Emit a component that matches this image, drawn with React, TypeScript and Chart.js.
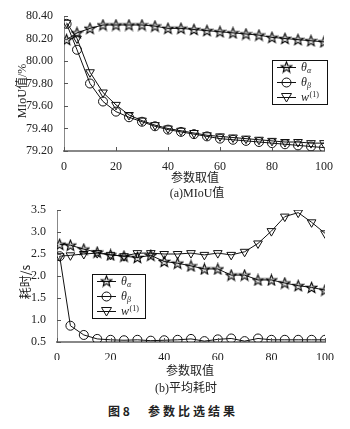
import React, { useEffect, useRef } from "react";
import { Chart, registerables } from "chart.js";
Chart.register(...registerables);

const xValues = [1, 5, 10, 15, 20, 25, 30, 35, 40, 45, 50, 55, 60, 65, 70, 75, 80, 85, 90, 95, 100];

const miouAlpha = [80.19, 80.25, 80.29, 80.32, 80.32, 80.32, 80.32, 80.31, 80.29, 80.29, 80.28, 80.27, 80.26, 80.25, 80.24, 80.23, 80.21, 80.2, 80.19, 80.18, 80.17];
const miouBeta = [80.33, 80.1, 79.8, 79.64, 79.55, 79.5, 79.46, 79.42, 79.39, 79.37, 79.35, 79.33, 79.31, 79.3, 79.29, 79.28, 79.27, 79.26, 79.25, 79.24, 79.23];
const miouW = [80.34, 80.2, 79.9, 79.72, 79.61, 79.52, 79.47, 79.43, 79.4, 79.38, 79.36, 79.34, 79.33, 79.32, 79.31, 79.3, 79.29, 79.28, 79.28, 79.27, 79.27];

const timeAlpha = [2.72, 2.7, 2.61, 2.54, 2.48, 2.45, 2.42, 2.47, 2.33, 2.29, 2.23, 2.16, 2.16, 2.02, 2.02, 1.91, 1.91, 1.84, 1.78, 1.74, 1.68];
const timeBeta = [2.45, 0.87, 0.66, 0.57, 0.55, 0.54, 0.55, 0.53, 0.54, 0.55, 0.57, 0.52, 0.56, 0.58, 0.52, 0.58, 0.55, 0.55, 0.55, 0.55, 0.55];
const timeW = [2.45, 2.47, 2.5, 2.52, 2.48, 2.45, 2.52, 2.52, 2.5, 2.5, 2.52, 2.48, 2.52, 2.48, 2.55, 2.74, 3.02, 3.35, 3.44, 3.22, 2.97];

const legendLabels = [
  { base: "θ", sub: "α", sup: "" },
  { base: "θ", sub: "β", sup: "" },
  { base: "w", sub: "", sup: "(1)" },
];

const SERIF = "'Liberation Serif', 'DejaVu Serif', serif";
const CJK = "'Noto Sans CJK SC', sans-serif";

function makeStar(): HTMLCanvasElement {
  const c = document.createElement("canvas");
  c.width = 13;
  c.height = 13;
  const g = c.getContext("2d")!;
  g.strokeStyle = "#000";
  g.lineWidth = 1.1;
  g.fillStyle = "rgba(0,0,0,0.15)";
  g.beginPath();
  const cx = 6.5, cy = 7, R = 5.6, r = 2.4;
  for (let i = 0; i < 10; i++) {
    const ang = -Math.PI / 2 + (i * Math.PI) / 5;
    const rad = i % 2 === 0 ? R : r;
    const px = cx + rad * Math.cos(ang);
    const py = cy + rad * Math.sin(ang);
    if (i === 0) g.moveTo(px, py);
    else g.lineTo(px, py);
  }
  g.closePath();
  g.fill();
  g.stroke();
  return c;
}

function drawMarker(ctx: CanvasRenderingContext2D, kind: number, x: number, y: number, star: HTMLCanvasElement) {
  ctx.save();
  ctx.strokeStyle = "#111";
  ctx.lineWidth = 1;
  if (kind === 0) {
    ctx.drawImage(star, x - 6.5, y - 7);
  } else if (kind === 1) {
    ctx.beginPath();
    ctx.arc(x, y, 4.5, 0, Math.PI * 2);
    ctx.stroke();
  } else {
    ctx.beginPath();
    ctx.moveTo(x - 5, y - 4);
    ctx.lineTo(x + 5, y - 4);
    ctx.lineTo(x, y + 4.5);
    ctx.closePath();
    ctx.stroke();
  }
  ctx.restore();
}

const legendPlugin = {
  id: "customLegend",
  afterDraw(chart: any, _args: any, opts: any) {
    const ctx: CanvasRenderingContext2D = chart.ctx;
    const { x, y, w, h, star } = opts;
    ctx.save();
    ctx.fillStyle = "#fff";
    ctx.fillRect(x, y, w, h);
    ctx.strokeStyle = "#111";
    ctx.lineWidth = 1;
    ctx.strokeRect(x + 0.5, y + 0.5, w, h);
    const rowH = h / 3;
    legendLabels.forEach((lab, i) => {
      const cy = Math.round(y + rowH * (i + 0.5)) + 0.5;
      ctx.beginPath();
      ctx.moveTo(x + 5, cy);
      ctx.lineTo(x + 24, cy);
      ctx.strokeStyle = "#111";
      ctx.stroke();
      drawMarker(ctx, i, x + 14.5, cy, star);
      let tx = x + 29;
      ctx.fillStyle = "#222";
      ctx.textBaseline = "middle";
      ctx.textAlign = "left";
      ctx.font = `italic 12px ${SERIF}`;
      ctx.fillText(lab.base, tx, cy);
      tx += ctx.measureText(lab.base).width;
      if (lab.sub) {
        ctx.font = `italic 8px ${SERIF}`;
        ctx.fillText(lab.sub, tx, cy + 3);
      }
      if (lab.sup) {
        ctx.font = `8px ${SERIF}`;
        ctx.fillText(lab.sup, tx + 0.5, cy - 3);
      }
    });
    ctx.restore();
  },
};

const inwardTicks = {
  id: "inwardTicks",
  afterDraw(chart: any) {
    const ctx: CanvasRenderingContext2D = chart.ctx;
    const { left, bottom } = chart.chartArea;
    const xs = chart.scales.x;
    const ys = chart.scales.y;
    ctx.save();
    ctx.strokeStyle = "#555";
    ctx.lineWidth = 1;
    xs.ticks.forEach((t: any) => {
      const px = Math.round(xs.getPixelForValue(t.value)) + 0.5;
      ctx.beginPath();
      ctx.moveTo(px, bottom);
      ctx.lineTo(px, bottom - 4);
      ctx.stroke();
    });
    ys.ticks.forEach((t: any) => {
      const py = Math.round(ys.getPixelForValue(t.value)) + 0.5;
      ctx.beginPath();
      ctx.moveTo(left, py);
      ctx.lineTo(left + 4, py);
      ctx.stroke();
    });
    ctx.restore();
  },
};

function buildChart(
  canvas: HTMLCanvasElement,
  series: number[][],
  yMin: number,
  yMax: number,
  yStep: number,
  yDigits: number,
  yAxisWidth: number,
  padTop: number,
  padRight: number,
  xAxisHeight: number,
  legendBox: { x: number; y: number; w: number; h: number }
) {
  const star = makeStar();
  const styles: any[] = [star, "circle", "triangle"];
  const datasets = series.map((vals, i) => ({
    data: xValues.map((xv, j) => ({ x: xv, y: vals[j] })),
    borderColor: "#111",
    borderWidth: 1,
    backgroundColor: "rgba(0,0,0,0)",
    pointStyle: styles[i],
    pointRadius: i === 2 ? 5 : 4.5,
    pointRotation: i === 2 ? 180 : 0,
    pointBorderColor: "#111",
    pointBorderWidth: 1,
    pointBackgroundColor: "rgba(0,0,0,0)",
    tension: 0,
  }));
  return new Chart(canvas, {
    type: "line",
    data: { datasets },
    options: {
      animation: false,
      responsive: false,
      layout: { padding: { top: padTop, right: padRight, left: 0, bottom: 0 } },
      plugins: {
        legend: { display: false },
        tooltip: { enabled: false },
        customLegend: { ...legendBox, star },
      } as any,
      scales: {
        x: {
          type: "linear",
          min: 0,
          max: 100,
          grid: { display: false },
          border: { display: true, color: "#888", width: 2 },
          ticks: {
            stepSize: 20,
            color: "#222",
            padding: 1,
            font: { family: SERIF, size: 12 },
            maxRotation: 0,
          },
          afterFit: (s: any) => {
            s.height = xAxisHeight;
          },
        },
        y: {
          min: yMin,
          max: yMax,
          grid: { display: false },
          border: { display: true, color: "#888", width: 1 },
          ticks: {
            stepSize: yStep,
            color: "#222",
            padding: 3,
            font: { family: SERIF, size: 12 },
            callback: (v: any) => Number(v).toFixed(yDigits),
          },
          afterFit: (s: any) => {
            s.width = yAxisWidth;
          },
        },
      },
    } as any,
    plugins: [legendPlugin, inwardTicks],
  });
}

const textStyle = (top: number, left: number, size: number, extra: any = {}): React.CSSProperties => ({
  position: "absolute",
  top,
  left,
  transform: "translateX(-50%)",
  fontSize: size,
  lineHeight: 1,
  whiteSpace: "nowrap",
  color: "#222",
  fontFamily: `${SERIF.split(",")[0]}, ${CJK}`,
  ...extra,
});

export default function App() {
  const ref1 = useRef<HTMLCanvasElement>(null);
  const ref2 = useRef<HTMLCanvasElement>(null);
  useEffect(() => {
    const c1 = buildChart(ref1.current!, [miouAlpha, miouBeta, miouW], 79.2, 80.4, 0.2, 2, 64, 16, 26, 19, {
      x: 272,
      y: 60,
      w: 55,
      h: 44,
    });
    const c2 = buildChart(ref2.current!, [timeAlpha, timeBeta, timeW], 0.5, 3.5, 0.5, 1, 57, 20, 25, 18, {
      x: 92,
      y: 84,
      w: 53,
      h: 44,
    });
    return () => {
      c1.destroy();
      c2.destroy();
    };
  }, []);
  return (
    <div style={{ position: "absolute", left: 0, top: 0, width: 350, height: 429, background: "#fff", overflow: "hidden" }}>
      <canvas ref={ref1} width={350} height={170} style={{ position: "absolute", left: 0, top: 0 }} />
      <canvas ref={ref2} width={350} height={170} style={{ position: "absolute", left: 0, top: 190 }} />
      <div
        style={{
          position: "absolute",
          left: 21,
          top: 91,
          transform: "translate(-50%, -50%) rotate(-90deg)",
          fontSize: 12,
          whiteSpace: "nowrap",
          color: "#222",
          fontFamily: `${SERIF.split(",")[0]}, ${CJK}`,
        }}
      >
        MIoU值/%
      </div>
      <div
        style={{
          position: "absolute",
          left: 24,
          top: 282,
          transform: "translate(-50%, -50%) rotate(-90deg)",
          fontSize: 12,
          whiteSpace: "nowrap",
          color: "#222",
          fontFamily: CJK,
        }}
      >
        耗时/s
      </div>
      <div style={textStyle(171, 195, 12, { fontFamily: CJK })}>参数取值</div>
      <div style={textStyle(187, 197, 12)}>(a)MIoU值</div>
      <div style={textStyle(364, 190, 12, { fontFamily: CJK })}>参数取值</div>
      <div style={textStyle(382, 186, 12)}>(b)平均耗时</div>
      <div style={textStyle(405, 173, 12, { fontFamily: CJK, fontWeight: 700, wordSpacing: 0 })}>
        <span>图 8</span>
        <span style={{ marginLeft: 18, letterSpacing: 3 }}>参数比选结果</span>
      </div>
    </div>
  );
}
